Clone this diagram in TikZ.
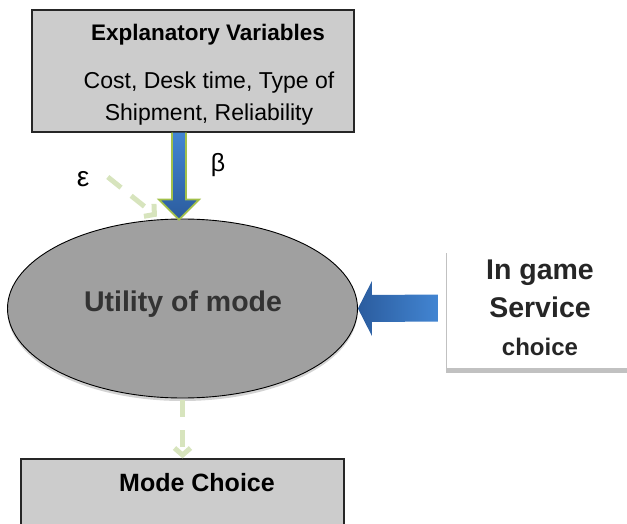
\documentclass[tikz,border=0pt]{standalone}
\usepackage{fontspec}
\setmainfont{Liberation Sans}
\usepackage{tikz}
\usetikzlibrary{calc}
\usetikzlibrary{positioning}
\usetikzlibrary{shapes}
\usetikzlibrary{arrows.meta}
\usetikzlibrary{shadows}

\definecolor{boxgray}{HTML}{CCCCCC}
\definecolor{ellgray}{HTML}{A0A0A0}
\definecolor{utiltext}{HTML}{333333}
\definecolor{bluelight}{HTML}{4285D2}
\definecolor{bluedark}{HTML}{2B5C9E}
\definecolor{rimgreen}{HTML}{A2C04A}
\definecolor{noisegreen}{HTML}{D7E4BD}

\tikzset{
	greybox/.style={rectangle, draw=black!85, line width=1.3pt, fill=boxgray, inner sep=0pt},
	noise/.style={draw=noisegreen, line width=5pt, dash pattern=on 17pt off 13pt, -{Straight Barb[length=7pt,width=16pt]}},
}

\begin{document}
\begin{tikzpicture}[x=1pt, y=-1pt]
				\useasboundingbox (0,0) rectangle (627,524);
				
				\node[greybox, minimum width=322pt, minimum height=122pt] (expl) at (193,71) {};
				\node[font=\fontsize{22.5}{27}\selectfont\bfseries] (explTitle) at (208,35) {Explanatory Variables};
				\node[font=\fontsize{23}{32}\selectfont, align=center] (explVars) at (209,99) {Cost, Desk time, Type of\\Shipment, Reliability};
				
				\node[ellipse, draw=black, line width=0.9pt, fill=ellgray, minimum width=350pt, minimum height=179pt, inner sep=0pt, drop shadow={shadow xshift=0pt, shadow yshift=-3pt, opacity=0.35}] (util) at (182.5,308.5) {};
				\node[font=\fontsize{28.5}{34}\selectfont\bfseries, text=utiltext] (utilText) at (183,304.5) {Utility of mode};
				
				\node[rectangle, fill=white, minimum width=186pt, minimum height=120pt, align=center, font=\fontsize{28.5}{38}\selectfont\bfseries, text=black!85, drop shadow={shadow xshift=-1.5pt, shadow yshift=-5pt, opacity=0.3, fill=black!80}] (game) at (540,308) {In game\\Service\\{\fontsize{24}{38}\selectfont choice}};
				
				\node[greybox, minimum width=323pt, minimum height=100pt] (mode) at (182.5,509) {};
				\node[font=\fontsize{25}{30}\selectfont\bfseries] (modeText) at (197,483) {Mode Choice};
				
				\node[font=\fontsize{25}{30}\selectfont] (beta) at (218,165) {β};
				\node[font=\fontsize{28}{30}\selectfont] (eps) at (83,179) {ε};
				
				\coordinate (betaTip) at ($(util.north)+(-3.5,1)$);
				\shade[top color=bluelight, bottom color=bluedark, draw=rimgreen, line width=1.8pt]  ($(expl.south -| betaTip)+(-7,0)$) -- ($(betaTip)+(-7,-20)$) -- ($(betaTip)+(-20,-20)$) -- (betaTip) -- ($(betaTip)+(20,-20)$) -- ($(betaTip)+(7,-20)$) -- ($(expl.south -| betaTip)+(7,0)$);
				\shade[left color=bluedark, right color=bluelight]  ($(game.west)+(-9,-13.5)$) -- ($(util.east)+(14,-13.5)$) -- ($(util.east)+(14,-27.5)$) -- (util.east) -- ($(util.east)+(14,27.5)$) -- ($(util.east)+(14,13.5)$) -- ($(game.west)+(-9,13.5)$) -- cycle;
				
				\draw[noise]  ($(eps.east)+(15,-2)$) -- ($(util.north)+(-25.5,-2)$);
				\draw[noise, shorten <=2pt]  (util.south) -- (mode.north);
			\end{tikzpicture}
\end{document}
